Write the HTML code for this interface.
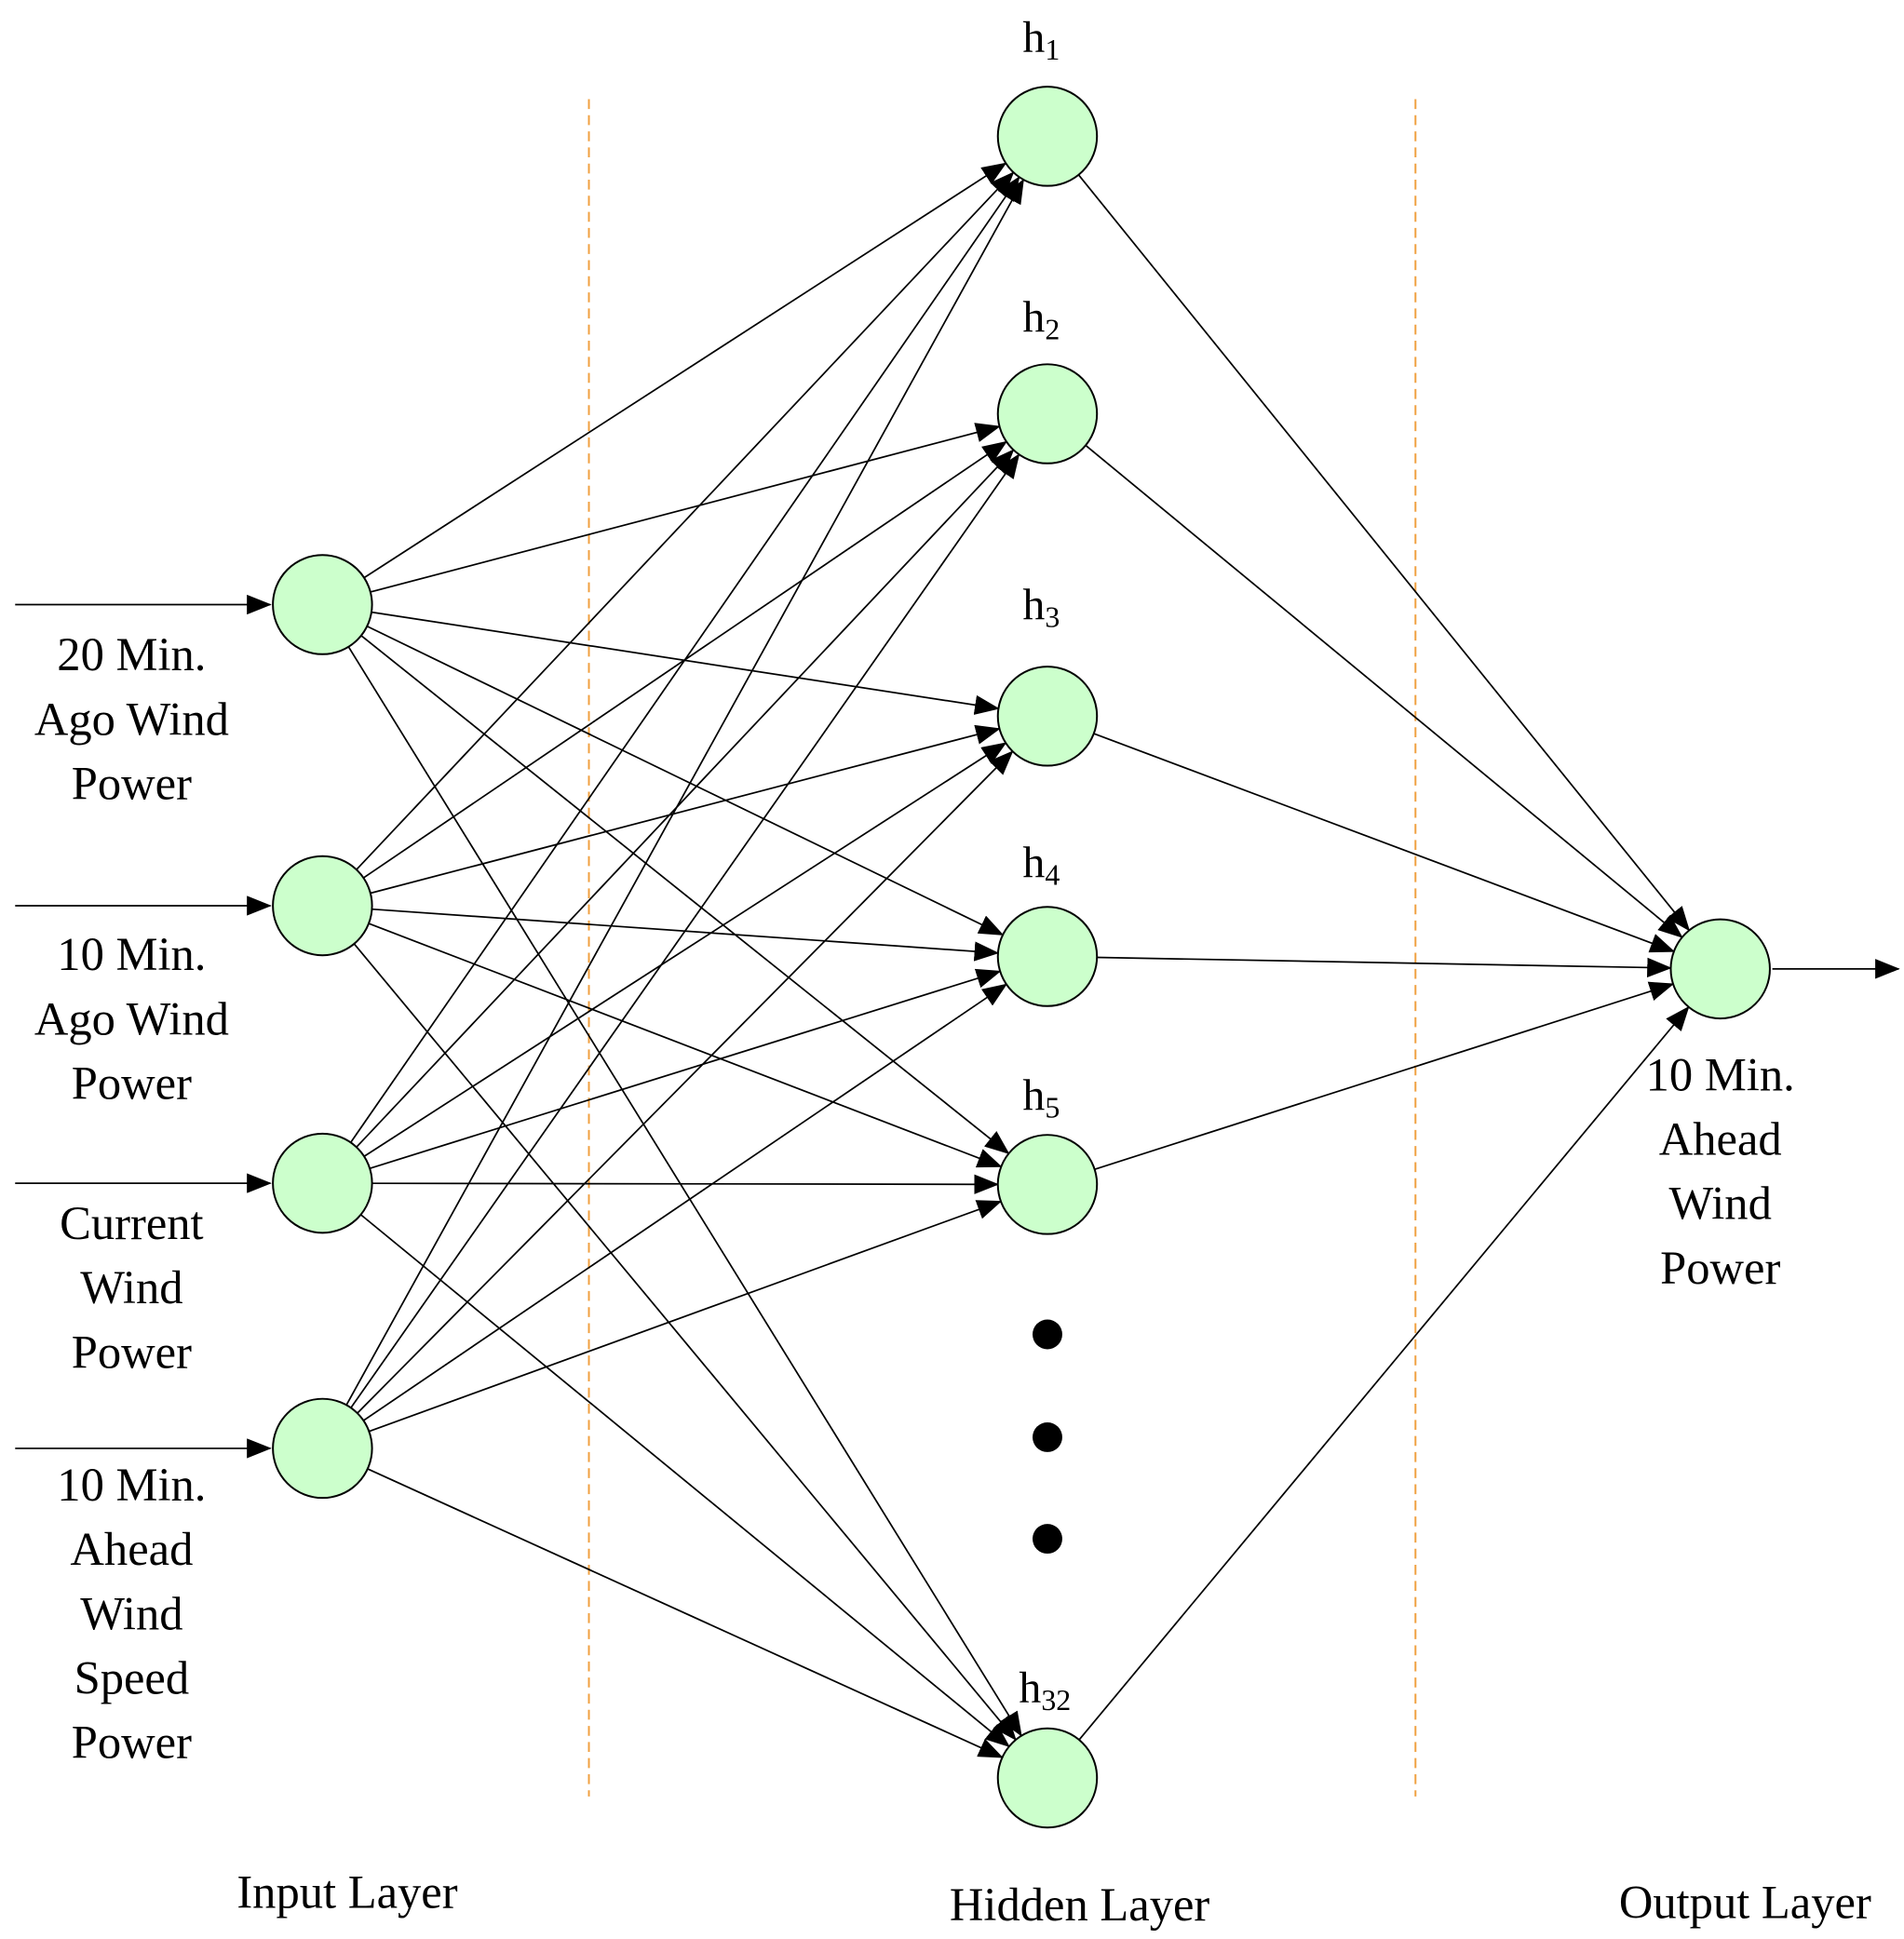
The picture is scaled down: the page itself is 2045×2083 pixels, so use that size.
<!DOCTYPE html>
<html><head><meta charset="utf-8"><style>
html,body{margin:0;padding:0;background:#fff;}
svg{display:block;}
text{font-family:"Liberation Serif",serif;fill:#000;}
</style></head><body>
<svg id="s" width="2045" height="2083" viewBox="0 0 1536 1565" xmlns="http://www.w3.org/2000/svg">
<defs><marker id="a" markerWidth="10" markerHeight="8" refX="9" refY="4" orient="auto" markerUnits="userSpaceOnUse" viewBox="0 0 10 8"><path d="M0,0 L10,4 L0,8 Z" fill="#000"/></marker>
<marker id="b" markerWidth="20" markerHeight="16" refX="19" refY="8" orient="auto" markerUnits="userSpaceOnUse" viewBox="0 0 20 16"><path d="M0,0 L20,8 L0,16 Z" fill="#000"/></marker></defs>
<line x1="475" y1="80" x2="475" y2="1450" stroke="#f0a040" stroke-width="1.5" stroke-dasharray="8,5"/>
<line x1="1142" y1="80" x2="1142" y2="1450" stroke="#f0a040" stroke-width="1.5" stroke-dasharray="8,5"/>
<g id="L" stroke="#000" stroke-width="1.3"></g>
<g id="C" fill="#ccffcc" stroke="#000" stroke-width="1.5"></g>
<circle cx="845" cy="1077" r="12" fill="#000"/>
<circle cx="845" cy="1160" r="12" fill="#000"/>
<circle cx="845" cy="1242" r="12" fill="#000"/>
<g font-size="36" text-anchor="middle">
<text x="840" y="42">h<tspan font-size="24" dy="6">1</tspan></text>
<text x="840" y="268">h<tspan font-size="24" dy="6">2</tspan></text>
<text x="840" y="500">h<tspan font-size="24" dy="6">3</tspan></text>
<text x="840" y="708">h<tspan font-size="24" dy="6">4</tspan></text>
<text x="840" y="896">h<tspan font-size="24" dy="6">5</tspan></text>
<text x="843" y="1374">h<tspan font-size="24" dy="6">32</tspan></text>
</g>
<g font-size="38" text-anchor="middle">
<text x="106" y="541">20 Min.</text><text x="106" y="593">Ago Wind</text><text x="106" y="645">Power</text>
<text x="106" y="783">10 Min.</text><text x="106" y="835">Ago Wind</text><text x="106" y="887">Power</text>
<text x="106" y="1000">Current</text><text x="106" y="1052">Wind</text><text x="106" y="1104">Power</text>
<text x="106" y="1211">10 Min.</text><text x="106" y="1263">Ahead</text><text x="106" y="1315">Wind</text><text x="106" y="1367">Speed</text><text x="106" y="1419">Power</text>
<text x="1388" y="880">10 Min.</text><text x="1388" y="932">Ahead</text><text x="1388" y="984">Wind</text><text x="1388" y="1036">Power</text>
<text x="280" y="1540">Input Layer</text>
<text x="871" y="1550">Hidden Layer</text>
<text x="1408" y="1548">Output Layer</text>
</g>
<script>
var NS="http://www.w3.org/2000/svg",L=document.getElementById("L"),C=document.getElementById("C"),R=40;
function ln(x1,y1,x2,y2,m){var l=document.createElementNS(NS,"line");l.setAttribute("x1",x1);l.setAttribute("y1",y1);l.setAttribute("x2",x2);l.setAttribute("y2",y2);if(m)l.setAttribute("marker-end","url(#"+m+")");L.appendChild(l);}
function ci(x,y){var c=document.createElementNS(NS,"circle");c.setAttribute("cx",x);c.setAttribute("cy",y);c.setAttribute("r",R);C.appendChild(c);}
function edge(ax,ay,bx,by,m){var dx=bx-ax,dy=by-ay,d=Math.sqrt(dx*dx+dy*dy),ux=dx/d,uy=dy/d;ln(ax+ux*R,ay+uy*R,bx-ux*R,by-uy*R,m);}
var I=[488,731,955,1169],H=[110,334,578,772,956,1435],O=[1388,782];
I.forEach(function(y){ln(12,y,218,y,"b");});
ln(1430,782,1532,782,"b");
I.forEach(function(y){H.forEach(function(h){edge(260,y,845,h,"b");});});
H.forEach(function(h){edge(845,h,O[0],O[1],"b");});
I.forEach(function(y){ci(260,y);});H.forEach(function(h){ci(845,h);});ci(O[0],O[1]);
</script>
</svg>
</body></html>
